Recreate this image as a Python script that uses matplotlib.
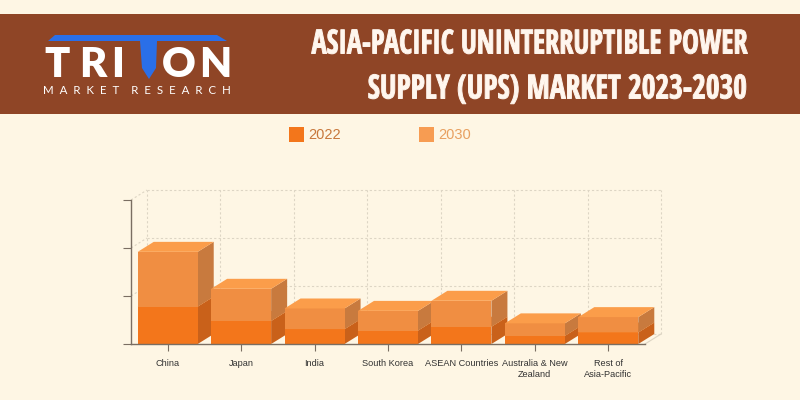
import matplotlib

matplotlib.use("Agg")
import matplotlib.pyplot as plt
from matplotlib.patches import Polygon, Rectangle
from matplotlib.patheffects import AbstractPathEffect
from matplotlib.transforms import Affine2D

categories = ["China", "Japan", "India", "South Korea", "ASEAN Countries",
              "Australia & New\nZealand", "Rest of\nAsia-Pacific"]
series_names = ["2022", "2030"]
values_2022 = [0.78, 0.48, 0.31, 0.28, 0.36, 0.17, 0.24]
values_2030 = [1.14, 0.67, 0.43, 0.41, 0.54, 0.26, 0.32]
y_ticks = [0, 1, 2, 3]

BG = "#fef6e4"
BANNER = "#8f4526"
BLUE = "#2a6fe8"
AXIS = "#7a6e62"
GRID = "#ddd5c4"

COLORS = {
    "2022": {"front": "#f3761b", "side": "#c9611a", "top": "#f58a35"},
    "2030": {"front": "#f08e42", "side": "#c87a3e", "top": "#fb9d4a"},
}

BAR_W = 0.817
DEPTH_X = 0.218  # about 16 px
DEPTH_Y = 0.208  # about 10 px


class Squeeze(AbstractPathEffect):
    # narrows the glyphs about a fixed pixel x, the title font is wider than the original
    def __init__(self, anchor_px, scale, stroke):
        super().__init__()
        self.anchor_px = anchor_px
        self.scale = scale
        self.stroke = stroke

    def draw_path(self, renderer, gc, tpath, affine, rgbFace=None):
        squeeze = Affine2D().translate(-self.anchor_px, 0).scale(self.scale, 1)
        squeeze = squeeze.translate(self.anchor_px, 0)
        gc0 = renderer.new_gc()
        gc0.copy_properties(gc)
        gc0.set_linewidth(self.stroke)
        gc0.set_foreground(rgbFace)
        renderer.draw_path(gc0, tpath, affine + squeeze, rgbFace)
        gc0.restore()


def draw_block(ax, x, y0, h, colors):
    left, right = x - BAR_W / 2, x + BAR_W / 2
    top = y0 + h
    ax.add_patch(Polygon([(right, y0), (right + DEPTH_X, y0 + DEPTH_Y),
                          (right + DEPTH_X, top + DEPTH_Y), (right, top)],
                         fc=colors["side"], ec="none", clip_on=False, zorder=2))
    ax.add_patch(Rectangle((left, y0), BAR_W, h, fc=colors["front"], ec="none",
                           clip_on=False, zorder=2))
    ax.add_patch(Polygon([(left, top), (right, top), (right + DEPTH_X, top + DEPTH_Y),
                          (left + DEPTH_X, top + DEPTH_Y)],
                         fc=colors["top"], ec="none", clip_on=False, zorder=2))


def main() -> None:
    plt.rcParams["font.family"] = ["Liberation Sans", "DejaVu Sans"]
    fig = plt.figure(figsize=(8, 4), dpi=100, facecolor=BG)

    # overlay in pixel coordinates for banner, logo and legend
    page = fig.add_axes([0, 0, 1, 1])
    page.set_xlim(0, 800)
    page.set_ylim(400, 0)
    page.axis("off")
    page.add_patch(Rectangle((0, 14), 800, 100, fc=BANNER, ec="none"))

    title_font = {"family": "Open Sans Condensed", "weight": "bold", "color": "#fff6ee",
                  "ha": "right", "va": "center"}
    page.text(748, 45, "ASIA-PACIFIC UNINTERRUPTIBLE POWER", fontsize=24,
              path_effects=[Squeeze(748, 0.85, 0.7)], **title_font)
    page.text(748, 90, "SUPPLY (UPS) MARKET 2023-2030", fontsize=24,
              path_effects=[Squeeze(748, 0.887, 0.7)], **title_font)

    # logo
    page.add_patch(Polygon([(55, 35), (217, 35), (227, 41), (157, 41), (156, 68),
                            (149, 79), (142, 68), (140, 41), (48, 41)],
                           fc=BLUE, ec="none"))
    logo_font = {"family": "Lato", "color": "white", "weight": 800,
                 "ha": "center", "va": "center"}
    for x, letter in zip([57, 93, 118, 179, 215], ["T", "R", "I", "O", "N"]):
        page.text(x, 65, letter, fontsize=30, **logo_font)
    page.text(137, 91, "M  A  R  K  E  T    R  E  S  E  A  R  C  H", color="white",
              family="Lato", fontsize=8.3, ha="center", va="center")

    # legend
    page.add_patch(Rectangle((289, 127), 15, 15, fc=COLORS["2022"]["front"], ec="none"))
    page.text(308, 135, series_names[0], color="#c8783c", fontsize=10.5, va="center")
    page.add_patch(Rectangle((419, 127), 15, 15, fc="#f79c52", ec="none"))
    page.text(438, 135, series_names[1], color="#e8a060", fontsize=10.5, va="center")

    # chart, front plane: x 131..645, y 344..200
    ax = fig.add_axes([131 / 800, (400 - 344) / 400, 514 / 800, 144 / 400])
    ax.patch.set_alpha(0)
    ax.set_xlim(-0.5, len(categories) - 0.5)
    ax.set_ylim(y_ticks[0], y_ticks[-1])

    # back wall and floor
    grid_style = {"color": GRID, "lw": 0.8, "ls": (0, (2, 2)), "clip_on": False, "zorder": 1}
    for y in y_ticks[1:]:
        ax.plot([-0.5, -0.5 + DEPTH_X], [y, y + DEPTH_Y], **grid_style)
    for y in y_ticks:
        ax.plot([-0.5 + DEPTH_X, len(categories) - 0.5 + DEPTH_X],
                [y + DEPTH_Y, y + DEPTH_Y], **grid_style)
    for i in range(len(categories) + 1):
        x = i - 0.5 + DEPTH_X
        ax.plot([x, x], [DEPTH_Y, y_ticks[-1] + DEPTH_Y], **grid_style)
    ax.plot([len(categories) - 0.5, len(categories) - 0.5 + DEPTH_X], [0, DEPTH_Y],
            color=GRID, lw=0.8, clip_on=False, zorder=1)

    for i, (low, high) in enumerate(zip(values_2022, values_2030)):
        draw_block(ax, i, 0, low, COLORS["2022"])
        draw_block(ax, i, low, high, COLORS["2030"])

    ax.set_xticks(range(len(categories)), categories, fontsize=6.6, color="#333333",
                  linespacing=1.25)
    ax.set_yticks(y_ticks, [""] * len(y_ticks))
    ax.tick_params(axis="x", length=5, width=0.8, color=AXIS, pad=6)
    ax.tick_params(axis="y", length=6, width=0.8, color=AXIS)
    for side in ["top", "right"]:
        ax.spines[side].set_visible(False)
    for side in ["left", "bottom"]:
        ax.spines[side].set_color(AXIS)
        ax.spines[side].set_linewidth(1.0)

    fig.savefig("out.png", dpi=100, facecolor=BG)
    plt.close(fig)


if __name__ == "__main__":
    main()
